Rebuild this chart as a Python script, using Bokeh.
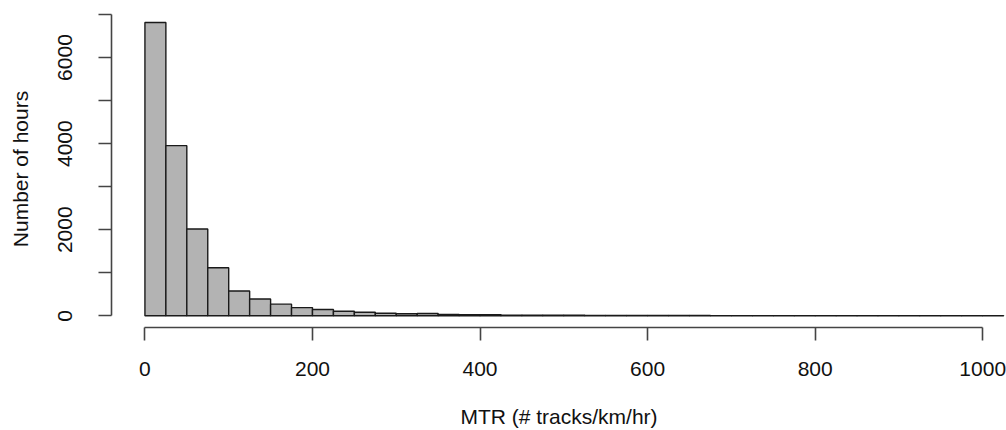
from bokeh.plotting import figure
from bokeh.models import Range1d, FixedTicker
from bokeh.embed import file_html
from bokeh.resources import INLINE

# Histogram of MTR (bins of 25 tracks/km/hr)
bin_width = 25
bin_starts = [0, 25, 50, 75, 100, 125, 150, 175, 200, 225, 250, 275, 300, 325, 350,
              375, 400, 425, 450, 475, 500, 525, 550, 575, 600, 625, 650, 675, 700,
              725, 750, 775, 800, 825, 850, 875, 900, 925, 950, 975, 1000]
counts = [6814, 3953, 2016, 1116, 576, 390, 271, 190, 146, 107, 84, 60, 46, 53, 30,
          23, 23, 16, 14, 12, 11, 10, 8, 9, 7, 6, 7, 5, 5, 4, 5, 4, 3, 4, 3,
          3, 2, 3, 2, 3, 2]
x_ticks = [0, 200, 400, 600, 800, 1000]
y_ticks = [0, 1000, 2000, 3000, 4000, 5000, 6000, 7000]
y_tick_labels = {0: "0", 2000: "2000", 4000: "4000", 6000: "6000"}
x_title = "MTR (# tracks/km/hr)"
y_title = "Number of hours"

FONT = "Liberation Sans"

p = figure(width=1006, height=430, output_backend="svg", toolbar_location=None,
           x_range=Range1d(-39.9, 1028.4), y_range=Range1d(-272, 7093),
           min_border_left=111, min_border_right=0, min_border_top=10,
           min_border_bottom=103)
p.outline_line_color = None
p.xgrid.visible = False
p.ygrid.visible = False
p.background_fill_color = "white"
p.border_fill_color = "white"

lefts = bin_starts
rights = [b + bin_width for b in bin_starts]
p.quad(left=lefts, right=rights, bottom=[0] * len(counts), top=counts,
       fill_color="#B3B3B3", line_color="#1a1a1a", line_width=1.4)

for ax in (p.xaxis[0], p.yaxis[0]):
    ax.axis_line_color = "#444444"
    ax.axis_line_width = 1.6
    ax.major_tick_line_color = "#444444"
    ax.major_tick_line_width = 1.6
    ax.major_tick_out = 13
    ax.major_tick_in = 0
    ax.minor_tick_line_color = None
    ax.major_label_text_font = FONT
    ax.major_label_text_font_size = "21px"
    ax.major_label_text_color = "#111111"
    ax.axis_label_text_font = FONT
    ax.axis_label_text_font_size = "21px"
    ax.axis_label_text_font_style = "normal"
    ax.axis_label_text_color = "#111111"

p.xaxis[0].ticker = FixedTicker(ticks=x_ticks)
p.xaxis[0].bounds = (x_ticks[0], x_ticks[-1])
p.xaxis[0].major_label_standoff = 21
p.xaxis[0].axis_label = x_title
p.xaxis[0].axis_label_standoff = 26

p.yaxis[0].ticker = FixedTicker(ticks=y_ticks)
p.yaxis[0].bounds = (y_ticks[0], y_ticks[-1])
p.yaxis[0].major_label_overrides = {k: v for k, v in y_tick_labels.items()}
p.yaxis[0].major_label_overrides.update({t: "" for t in y_ticks if t not in y_tick_labels})
p.yaxis[0].major_label_orientation = "vertical"
p.yaxis[0].major_label_standoff = 26
p.yaxis[0].axis_label = y_title
p.yaxis[0].axis_label_standoff = 24

open("out.html", "w").write(file_html(p, INLINE))
